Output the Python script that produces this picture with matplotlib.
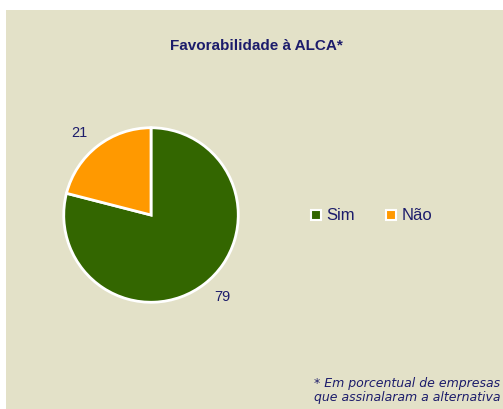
import matplotlib.pyplot as plt
from matplotlib.patches import Rectangle
from matplotlib.lines import Line2D

# dados
categorias = ['Sim', 'Não']
valores = [79, 21]
cores = ['#336600', '#FF9900']
titulo = 'Favorabilidade à ALCA*'
nota = '* Em porcentual de empresas\nque assinalaram a alternativa'

W, H = 503, 409
fig = plt.figure(figsize=(W / 100, H / 100), dpi=100)
fig.patch.set_facecolor('white')
fig.patches.append(Rectangle((6 / W, 0), 1 - 6 / W, (H - 10) / H,
                             transform=fig.transFigure, facecolor='#E3E1C8',
                             edgecolor='none', zorder=-5))

azul = '#1C1C6B'
plt.rcParams['font.family'] = ['Liberation Sans', 'DejaVu Sans']

# pizza
cx, cy, r = 151, 215, 89
ax = fig.add_axes([(cx - r) / W, (H - cy - r) / H, 2 * r / W, 2 * r / H])
ax.pie(valores, colors=cores, startangle=90, counterclock=False,
       labels=[str(v) for v in valores], labeldistance=1.19,
       wedgeprops=dict(edgecolor='white', linewidth=2),
       textprops=dict(color=azul, fontsize=10.5))
ax.set_xlim(-1.02, 1.02)
ax.set_ylim(-1.02, 1.02)
ax.axis('off')

fig.text(256 / W, 1 - 46 / H, titulo, ha='center', va='center',
         fontsize=11, fontweight='bold', color=azul)

handles = [Line2D([], [], marker='s', linestyle='none', markersize=7,
                  markerfacecolor=c, markeredgecolor='white', markeredgewidth=1.5)
           for c in cores]
fig.legend(handles, categorias, loc='center left', bbox_to_anchor=(296 / W, 1 - 216 / H),
           ncol=2, frameon=False, fontsize=12, labelcolor=azul,
           handlelength=0.6, handletextpad=0.3, columnspacing=1.9)

fig.text(500 / W, 1 - 391 / H, nota, ha='right', va='center', fontsize=9,
         style='italic', color=azul, family='DejaVu Sans', linespacing=1.1)

fig.savefig('out.png', dpi=100)
